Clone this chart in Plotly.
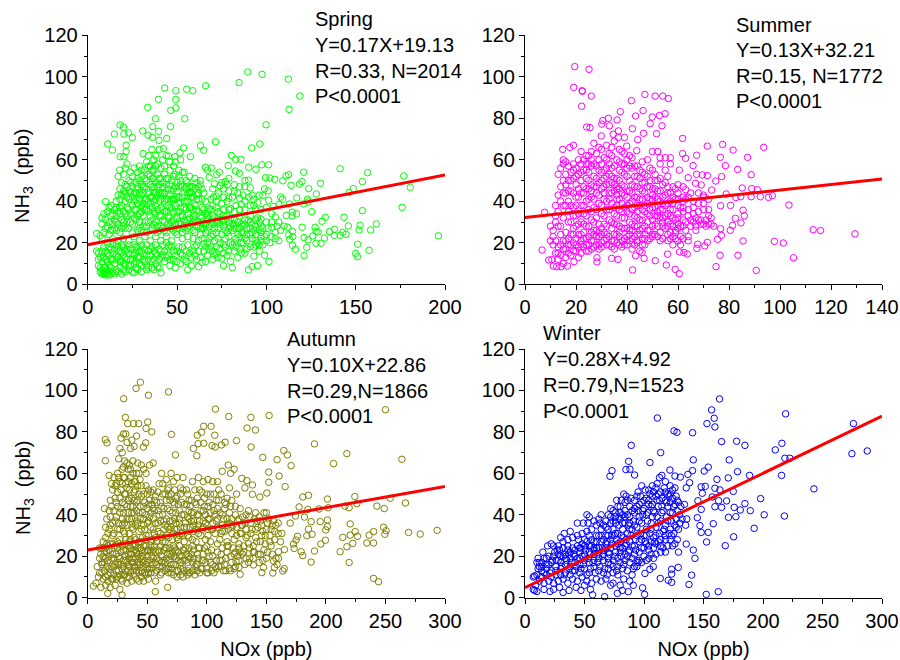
import plotly.graph_objects as go

spring_points = [
(43.1,94.6),(39.6,89.1),(33.6,85.3),(38,79.8),(18.1,76.8),(20,75.8),(49.3,93.3),(49.3,89.1),(49.3,85),(46.5,83.8),(55.4,94),(58.8,93.3),(66,95.7),(84.7,97.2),(89.6,102.3),(97.6,101.2),(112.3,98.9),(118.7,90.7),(112.7,84.3),(99.8,76.9),(54.3,79.8),(46.3,76),(36.4,76),(30.8,73.9),(39.7,73.7),(33.8,71.9),(36.2,70.8),(44.2,70.3),(39.9,69.4),(14.9,72.4),(20.3,72.4),(22.8,73),(25,70.7),(11.2,67.6),(21.5,67.1),(13.8,64.7),(21.5,64),(18.1,61.5),(20.2,61.5),(71.5,68.7),(63.1,66.8),(64.9,64.6),(53.6,65.7),(42.4,65.4),(91.8,65.7),(96.3,67.6),(57.5,61.5),(51.7,63.4),(48.9,61.5),(45.2,61.8),
(80.4,62.1),(82.8,60.2),(85.7,60.2),(78.7,57.2),(65.9,56.4),(69.2,56),(67,55),(73.7,54),(72.2,52.8),(82.7,54.6),(84.9,53.5),(90.1,56.4),(94.2,55.4),(97.4,57.6),(101.3,57.6),(99.5,51.4),(102,51.2),(104.7,50.6),(109.2,49.9),(111,52.2),(112.5,52.8),(120.9,54),(113.8,47.7),(118.5,48.3),(120,49.5),(123.7,46.1),(141.3,55.7),(156.7,53.8),(153.8,49.5),(148.7,46.1),(146.3,44.2),(176.9,52.2),(180.6,46.7),(176,37.1),(196.3,23.4),(161.6,29.1),(158.4,26.2),(157.5,16.4),(153.8,35.5),(152.5,28.4),(151.1,19.3),(150,14.9),(151,13.3),(151.9,26.2),(145.9,28.1),(143.5,32.3),(144.6,24.1),(142.7,25),(141.3,23.6),(138.1,26.5),(138.1,23.6),(135.3,25.4),(133,32.3),(131.2,30.4),(132.5,22.3),(130.6,19.8),(127.8,19.8),(127.3,27.5),(127.8,25.5),(129,25.2),(126,23.3),(123.4,21.4),(122.6,17.8),(121.1,13.8),(121.1,22.5),(120,27.5),(125.4,35),(130.3,48.7),(128,43.5),(123,41),(120.9,38.7),(123.4,39.7),(117,41.6),(116.9,34),(114.5,34.8),(114.5,33),(111.2,33.2),(112.9,38.7),(114.6,25.5),(111.9,27.5),(112.5,23.9),(114.8,23),(113.1,21.7),(114.6,18.8),(116.3,16.9),
(98,42.8),(101,45),(101.3,40.5),(108,42),(109,41),(104,37.5),(107,38.5),(105,32.5),(92,43),(91,46.5),(88,47),(90,50.2),(85,41.5),(82,44.7),(79,41.5),(76,42),(72,42.5),(70.5,42),(77,49.5),(79,51),(75,49),(71,48.5),(68,51.5),(74,47.5),(78,48),(86,38.5),(93,38),(95,39.5),(83,38),(88,36),(80,36.5),(76,36),(72,37),(68,36.5),(64,37),(95,32),(97,31.5),(90,31),(85,33),(82,31),(78,33),(74,34),(70,33),(66,34),(62,35),(60,33),
(101,27),(103,27.5),(106,28),(108,26),(105,25),(100,24),(102,20),(105,22),(97,21),(94,28),(92,25),(89,27),(86,29),(83,27),(80,28),(77,26),(74,29),(71,27),(68,28),(65,29),(62,28),(59,30),(56,31),(96,26.5),(91,30),(87,25),(84,24),(81,26),(78,25),(75,24),(72,25),(69,23),(66,25),(63,24),(60,25),
(95,20),(92,22),(89,21),(86,20),(83,22),(80,20),(77,22),(74,20),(71,21),(68,22),(65,19.5),(62,21),(59,22),(56,23),(53,22),(50,24),(47,21),(44,23),(41,21),(38,23),(35,21),(32,23),(29,21),(26,23),(23,21),(20,22),(17,21),(14,22),(11,20),(8,22),(5,24.5),(7,23.5),
(99,14),(96,16),(93,13.5),(95,9),(92,8.5),(90,7),(101.5,11),(89,17),(86,15),(84,13),(82,16),(80,11),(81,8),(78,14),(76,9),(75,12.5),(72,15),(70,12),(68,17),(66,11),(64,10.5),(62,8.5),(60,14),(58,9),(56,7),(57,15),(55,11),(53,14),(52,10),(50,16),(48,12),(49,8),(46,9),(47,18),(45,14),(44,20),(43,11),(41,5.5),(41,13),(40,8),(38,15),(37,7),(36,11),(35,17),(34,8),(33,14),(31,12),(30,6),(30,9),(28,7),(28,13),(29,16),(26,10),(27,18),(25,6),(25,15),(24,12),(23,9),(22,17),(21,13),(20,10),(19,15),(18,11),(17,18),(16,14),(15,10),(14,12),(13,17),(12,14),(11,11),(10,16),(9,13),(8,11),(6,15),(5,16),(6,12),
(6,9),(7,6),(7,8),(8,5),(8,7),(9,5),(9,8),(10,4.5),(10,6),(10,8),(11,5),(11,7),(12,4.5),(12,6),(12,9),(13,5),(13,8),(14,6),(15,5),(16,7),(17,6),(18,8),(19,5),(20,7),(21,6),(23,7),(26,5.5),(27,8),(33,7),(36,8),(39,8.5),
(10,39.8),(9,34),(8,32),(8,29),(10,31),(11,35),(12,37),(11,28),(13,33),(14,29),(15,31),(16,40),(15,36),(17,43),(18,41),(17,35),(16,26),(13,26),(19,31),(20,28),(19,38),(21,34),(21,44),(20,45),(22,37),(22,30),(23,27),(23,41),(24,34),(25,38),(25,29),(26,44),(26,32),(27,36),(27,41),(28,26),(28,47),(29,30),(29,34),(30,38),(30,43),(31,28),(31,33),(32,41),(32,47),(33,25),(33,36),(34,30),(34,44),(35,39),(35,33),(36,27),(36,42),(37,35),(37,47),(38,30),(38,38),(39,25),(39,43),(40,33),(40,48),(41,28),(41,37),(42,44),(42,31),(43,26),(43,40),(44,35),(44,48),(45,29),(45,38),(46,43),(46,32),(47,27),(47,37),(48,46),(48,31),(49,41),(49,25),(50,35),(50,45),(51,29),(51,39),(52,48),(52,33),(53,27),(53,42),(54,37),(54,31),(55,46),(55,26),(56,40),(56,34),(57,28),(57,44),(58,37),(59,32),(59,42),(60,38),(60,46),(61,28),(62,41),(63,33),(63,48),(65,27),(65,36),
(17,52),(18,55),(19,49),(20,53),(21,56),(21,48),(22,58),(23,50),(24,54),(25,47),(25,52),(26,56),(27,49),(28,54),(29,57),(29,50),(30,52),(31,47),(31,63),(32,55),(33,59),(33,50),(34,62),(34,53),(35,48),(35,57),(36,65),(36,51),(37,60),(37,55),(38,49),(38,62),(39,53),(39,58),(40,51),(40,65),(41,56),(42,60),(42,49),(43,53),(43,57),(44,62),(45,51),(46,55),(46,59),(47,50),(48,57),(49,53),(49,59),(50,49),(51,55),(52,60),(52,50),(54,54),(55,47),(56,49),(57,52),(58,47),(60,51),(61,49),(62,47),(63,50),
(9,25),(10,27),(12,24),(14,26),(14,34),(15,27),(16,33),(17,29),(18,25),(18,37),(19,43),(20,35),(20,30),(21,27),(22,33),(22,42),(23,36),(24,30),(24,44),(25,25),(26,36),(27,31),(28,33),(28,39),(29,44),(29,27),(30,35),(30,26),(31,39),(32,30),(32,36),(33,41),(33,28),(34,35),(35,42),(35,26),(36,37),(36,31),(37,29),(37,40),(38,34),(38,44),(39,28),(39,36),(40,40),(40,26),(41,33),(41,44),(42,27),(42,36),(43,30),(43,35),(44,41),(44,25),(45,33),(46,28),(46,37),(47,41),(47,30),(48,35),(48,26),(49,38),(49,29),(50,32),(50,27),(51,42),(51,35),(52,29),(52,37),(53,33),(53,25),(54,40),(54,28),(55,36),(55,30),(56,27),(57,37),(57,32),(58,29),(58,42),(59,26),(59,36),(60,31),(61,36),(61,43),(62,30),(63,27),(64,32),(64,41),(66,29),(67,33),(67,31),(69,30),(69,36),(70,29),(71,32),(72,30),(73,27),(75,31),(76,28),(77,31),(79,27),(80,32),(81,29),(82,27),(84,30),(86,25),(87,28),(88,31),(89,24),(91,27),(92,29),(93,26),(94,24),(96,30),(97,25),(98,27),(99,23),
(7,13),(8,16),(9,18),(10,12),(11,15),(12,18),(13,12),(14,15),(14,19),(15,17),(16,12),(16,19),(17,13),(18,16),(19,11),(19,19),(20,14),(20,18),(21,10),(21,16),(22,12),(23,15),(23,19),(24,9),(24,17),(25,12),(26,14),(26,19),(27,11),(27,15),(28,18),(29,10),(29,13),(30,16),(30,19),(31,15),(32,11),(32,17),(33,9),(33,19),(34,12),(34,16),(35,14),(36,18),(37,12),(37,16),(38,10),(38,19),(39,14),(40,12),(40,17),(41,16),(42,14),(42,19),(43,16),(44,13),(45,18),(46,12),(46,19),(48,16),(49,14),(50,11),(51,18),(52,15),(53,18),(54,12),(55,16),(56,19),(58,13),(59,16),(60,18),(61,12),(62,16),(63,13),(65,16),(66,18),(67,14),(69,18),(70,16),(71,14),(72,18),(73,13),(74,17),(76,15),(77,18),(79,16),(81,19),(83,18),(85,17),(87,20),(88,15),(91,18),(93,18),(94,21),(96,19),(98,19),
(12,30),(13,38),(16,37),(16,30),(18,46),(18,34),(19,27),(21,40),(22,47),(23,45),(24,49),(25,42),(26,40),(27,46),(27,44),(28,51),(29,41),(30,48),(30,55),(31,44),(31,37),(32,51),(33,46),(34,40),(34,57),(35,52),(36,47),(36,55),(37,44),(37,51),(38,41),(38,57),(39,47),(40,44),(41,41),(41,51),(42,47),(43,44),(44,51),(45,41),(45,46),(46,48),(47,45),(48,41),(48,52),(49,47),(50,42),(51,47),(51,52),(53,47),(53,54),(54,44),(55,50),(55,40),(56,44),(57,47),(58,44),(59,47),(61,41),(62,44),(64,46),(65,44),
(61,19),(64,22),(67,20),(70,24),(73,22),(76,19),(79,23),(82,20),(85,23),(88,22),(91,24),(94,19),(97,23),(100,21),(103,23),(107,21),(64,27),(67,26),(70,31),(73,31),(76,30),(79,30),(82,29),(85,27),(88,29),(91,33),(94,31),(97,28),(100,30),(103,30),(107,30),(110,28),(64,30),(67,35),(70,38),(73,35),(76,33),(79,36),(82,35),(85,36),(88,40),(91,38),(94,36),(97,36),(100,37),(103,34),(66,40),(69,41),(72,40),(75,39),(78,40),(81,42),(84,44),(87,43),(90,42),(93,41),(96,43),(99,46),(70,46),(73,44),(76,46),(79,45),(82,48),(85,47),(88,50),
]
spring_line_x = [0, 200]
spring_line_y = [19.1, 52.7]

summer_points = [
(19.5,104.9),(25.1,103.6),(19.1,94.9),(22.4,93.3),(22.5,93),(26,90.7),(22.2,85.8),(41.7,88.5),(47,91.5),(51,90.7),(54,90.7),(56.2,89.5),(46.3,83.7),(37.4,83.2),(43.4,81.1),(49.9,80.6),(52.7,81.3),(54.9,82.2),(32.7,80),(30.5,78.9),(30.1,77.2),(33.1,76.4),(24.2,75.8),(25.5,75.5),(36.1,79.2),(42.1,75),(49.1,77.4),(53.7,76.4),(51.6,72.6),(46.5,72.8),(36.6,73.9),(34.6,72.3),(29.9,71.5),(39,70.8),(36.6,70.8),(44.2,69.7),(61.8,70.3),(71.5,66.6),(77.5,67.4),(81.6,64.7),(93.6,66),(87.3,61.2),(76.6,61.2),(67.3,62.2),(61.8,63),(63,60.7),(39.9,66.6),(43.8,64.4),(14.8,65),(17.6,66),(19,67),(78.6,57.2),(83.4,55.4),(65.9,57.2),(60.5,55),(88.7,52.8),(77.1,51.9),(74.8,49.8),(71.5,52.4),(69.5,52.7),(67.3,53),(64,51.4),(66.9,48.7),(69.1,47.9),(73.2,45.4),(63,45.6),(85.2,46.4),(88.9,46.1),(91.1,45.6),(78.9,43.5),(84.6,42.2),(82.7,41.8),(88.7,42.2),(92.3,42.2),(95.5,41.9),(97,42.7),(103.5,38.2),(80.6,38),(76.7,37.9),(85.5,35.7),(86,33),(82.5,31.8),(81.4,28.4),(84.7,29.6),(80.5,26),(76.7,26.8),(77,23.6),(75.5,21.7),(85.5,20.9),(97.8,20.7),(101.3,19.9),(105.3,12.8),(113,26.3),(115.9,25.9),(129.4,24.3),(90.7,6.7),(83.5,14),(76.5,14),(74.9,8.5),(71.5,20.2),(70.5,18.5),(67.4,17.3),(67.7,19.3),(63.6,14.6),(62.3,15.3),(60.6,15.6),(55.9,14.5),(55.4,9.3),(58.9,7.2),(60.5,5.1),(42.2,6.9),(51.1,11.4),(46.7,12.5),(45.9,15.3),(43.4,13.7),(36.5,12),(34,12.5),(28.2,12.8),(28.2,10.8),(6.7,16.5),(7.7,34.7),(19.2,10.9),(16.6,8.8),(14.1,8.5),(12.4,8.5),(11.1,8.8),(9.3,11.7),(10.5,11.9),
(68,44),(70,43),(72,41),(66,40),(68,39),(70,42),(62,40),(64,42),(60,44),(58,47),(60,48),(62,47),(56,52),(55,55),(57,58),(55,61),(57,61),(53,61),(50,64),(52,64),(48,60),(46,59),(49,56),(51,53),(53,58),(52,50),(54,48),(56,44),(58,42),(60,38),(62,35),(64,33),(66,34),(68,35),(70,36),(72,33),(73,29),(71,31),(69,29),(67,28),(65,31),(63,30),(62,28),(60,27),(58,28),(56,30),(54,32),(52,33),(50,31),(48,34),(46,36),(44,38),(42,40),(40,42),(38,44),(36,47),(34,49),(32,52),(30,54),(28,57),(26,60),(24,62),(22,64),
(13,53),(14,56),(15,60),(15,58),(16,53),(17,57),(17,50),(18,54),(19,58),(19,51),(20,56),(20,48),(21,53),(22,58),(22,50),(23,55),(23,47),(24,58),(24,51),(25,62),(25,54),(26,48),(26,57),(27,68),(27,52),(28,63),(28,47),(29,55),(29,60),(30,50),(30,65),(31,55),(31,47),(32,60),(32,67),(33,53),(33,48),(34,62),(34,56),(35,51),(35,69),(36,60),(36,46),(37,55),(37,50),(38,64),(38,58),(39,47),(39,53),(40,60),(40,56),(41,50),(41,45),(42,56),(42,61),(43,52),(43,47),(44,57),(44,42),(45,51),(45,46),(46,54),(47,49),(47,44),(48,52),(49,47),(50,43),(51,46),(52,41),(53,45),(54,39),(55,43),(57,40),(59,41),
(10,28),(11,26),(11,23),(12,30),(12,38),(13,43),(13,35),(14,47),(14,28),(15,38),(15,32),(16,44),(16,25),(17,40),(17,35),(18,30),(18,45),(19,27),(19,37),(20,42),(20,33),(21,46),(21,29),(22,38),(22,24),(23,44),(23,34),(24,28),(24,40),(25,36),(25,46),(26,31),(26,42),(27,26),(27,37),(28,32),(28,44),(29,25),(29,39),(30,34),(30,46),(31,29),(31,41),(32,36),(32,24),(33,44),(33,31),(34,27),(34,39),(35,34),(35,45),(36,29),(36,41),(37,25),(37,36),(38,32),(38,39),(39,27),(39,43),(40,35),(40,23),(41,39),(41,30),(42,26),(42,36),(43,42),(43,33),(44,28),(44,24),(45,38),(45,31),(46,41),(46,27),(47,35),(47,24),(48,39),(48,30),(49,36),(49,26),(50,41),(50,23),(51,37),(51,29),(52,35),(53,25),(53,40),(54,30),(54,36),(55,27),(56,39),(56,24),(57,33),(57,29),(58,36),(58,23),(59,31),(59,26),(60,34),(60,29),(61,23),(62,37),(63,41),(64,23),(66,30),(67,26),(68,31),(70,29),(72,29),(73,32),
(11,19),(10,21),(12,15),(12,21),(13,12),(13,18),(14,24),(14,14),(15,21),(15,10),(16,17),(16,13),(17,22),(17,19),(18,14),(18,24),(19,20),(20,16),(20,22),(21,18),(21,13),(22,21),(22,15),(23,18),(23,25),(24,16),(24,22),(25,19),(26,25),(26,17),(27,21),(28,19),(29,23),(30,20),(31,25),(32,22),(33,19),(34,21),(35,17),(35,24),(36,20),(37,23),(38,18),(39,22),(40,19),(41,21),(42,17),(43,23),(44,20),(45,16),(46,22),(47,19),(48,21),(50,24),(52,23),(54,22),(58,19),(60,21),(62,22),(64,21),
(12,33),(13,28),(14,40),(15,44),(15,50),(16,48),(16,38),(16,59),(17,45),(17,30),(18,38),(18,50),(19,33),(19,44),(19,55),(20,38),(20,28),(20,52),(21,34),(21,42),(21,60),(22,30),(22,44),(22,54),(23,38),(23,29),(23,60),(24,33),(24,46),(24,55),(25,28),(25,41),(25,50),(25,58),(26,35),(26,45),(26,64),(27,30),(27,41),(27,47),(27,58),(28,36),(28,26),(28,51),(29,29),(29,43),(29,49),(29,66),(30,38),(30,27),(30,58),(31,33),(31,44),(31,51),(31,61),(32,40),(32,28),(32,48),(32,56),(33,36),(33,41),(33,58),(33,63),(34,30),(34,44),(34,52),(34,66),(35,37),(35,29),(35,48),(35,57),(36,33),(36,38),(36,43),(36,51),(37,28),(37,41),(37,46),(37,59),(37,65),(38,35),(38,27),(38,48),(38,54),(39,32),(39,37),(39,58),(39,63),(40,27),(40,38),(40,45),(40,52),(41,34),(41,26),(41,57),(41,62),(42,29),(42,44),(42,48),(43,37),(43,28),(43,57),(44,32),(44,35),(44,47),(44,52),(45,26),(45,41),(45,55),(46,31),(46,45),(46,49),(47,28),(47,38),(47,53),(48,42),(48,26),(48,47),(49,33),(49,41),(49,50),(50,28),(50,37),(50,46),(50,55),(51,33),(51,42),(51,50),(52,28),(52,38),(52,45),(53,32),(53,36),(53,51),(54,28),(54,42),(55,33),(55,38),(55,49),(56,28),(56,34),(56,47),(57,25),(57,36),(57,44),(58,32),(58,39),(59,25),(59,46),(60,32),(60,41),(61,28),(61,37),(62,31),(62,42),(63,26),(64,36),(65,28),(65,44),(66,37),(67,32),(69,31),(70,39),(71,28),(72,36),(74,28),
(13,15),(14,19),(15,17),(16,21),(17,15),(18,19),(19,16),(19,24),(20,19),(21,24),(22,19),(23,22),(24,19),(25,23),(25,16),(26,21),(27,18),(27,24),(28,23),(29,19),(29,17),(30,24),(30,18),(31,21),(32,19),(33,23),(34,18),(35,21),(36,24),(37,19),(38,21),(39,19),(40,21),(41,24),(42,22),(43,19),(44,21),(45,24),(46,19),(47,22),(49,22),(51,24),(53,21),(56,21),(57,22),(59,22),(61,19),
]
summer_line_x = [0, 140]
summer_line_y = [32.2, 50.7]

autumn_points = [
(44.2,104),(40.6,101),(30.2,96),(51,97.7),(67.8,99.3),(107.2,91),(250,90.7),(118.4,87.4),(137,87),(152.3,87.9),(31.6,87),(50.4,84.8),(38.6,84),(42.8,84),(33.6,84),(97.4,82.7),(103.6,82.7),(133.8,81.9),(140.8,80.9),(106.7,78.4),(70.3,78.8),(49,81.7),(53.8,80),(95.5,79.8),(92,78.4),(124.9,75.8),(115.4,75),(112.3,73.7),(104.4,73.4),(107,72.7),(97.4,74.5),(92.7,74.3),(137.2,72.7),(164.6,71),(167.7,68.9),(190.4,74.2),(217.6,69.5),(263.8,66.8),(206.4,64.7),(170.8,63.7),(159,66.6),(147,67.7),(73.6,68.9),(14.8,66.1),(14.8,76.3),(16.2,74.7),(48.7,74.7),(46.8,72.7),(88.8,72),(91.6,68.5),(152,60.6),(152,55.7),(160.7,58.7),(165.8,53.6),(150.4,50.5),(144.5,48.6),(138.3,54.4),(133.6,56.5),(129.4,57.6),(132,53),(138.3,49.9),(180.6,48.6),(185.4,49.4),(201.3,47.6),(224.3,48.8),(254,48),(266.8,45.7),(226,45.4),(219.5,43.4),(242.8,44.2),(249,43),(216,44.2),(202,43.4),(194.3,42.8),(177.5,43.8),(184.8,42.6),(182,38.9),(174.4,39.4),(170,36),(201.3,37.5),(195.2,36.7),(187.6,36.7),(185.4,33.1),(201.3,34.3),(199.9,32.7),(220.4,35.6),(248.4,34),(250.6,32.3),(249.5,30.6),(240,31.9),(236.3,30.2),(224.6,31.9),(226.5,29.6),(220.4,30.2),(214.2,29.1),(222.6,26.2),(217.6,24.6),(212,22.2),(234.4,26.4),(240,26.4),(269.4,31.5),(279.2,30.7),(293.4,32.5),(219.5,17),(240,9.3),(244.2,7.7),(199.6,27.7),(195.7,25.9),(190.4,22.5),(187.6,17.2),(180.6,20.3),(179.2,22.2),(188.4,30.6),(184,29.9),(176.1,29.6),(175,27.8),(172.8,25.9),(173.3,23.8),(165,14),(163.8,12.9),(165.2,23.2),(160.2,22.2),(160.2,19),(156,17.7),(156.8,14.6),(155.4,11.9),(147.6,14.6),(146.2,12.1),(139.2,15.8),(128,11.3),(127,14.6),(124.6,17.4),(56.8,2.9),(67.2,5),(28.8,1.3),(16.8,2.1),(4.8,5.6),
(28,77),(30,79),(27,72),(29,70),(33,75),(36,72),(39,73),(37,76),(41,78),(32,79),(26,67),(31,66),(35,64),(38,66),(42,65),(45,64),(52,64),(55,65),(47,62),(49,60),(43,60),(34,62),(29,62),(25,60),(18,59),(20,55),(22,58),(24,55),(27,56),(30,58),(32,55),(36,58),(40,56),(44,57),(50,50),(53,51),(56,47),(62,60),(60,55),(66,57),(70,60),(75,58),(80,58),(68,53),(72,56),(78,53),(84,50),(88,56),(90,52),(93,58),(97,56),(101,57),(105,56),(109,56),(103,50),(98,48),(108,47),(112,50),(117,48),(113,61),(118,64),(120,60),(123,62),(119,53),(125,50),
(14,43),(16,38),(18,42),(15,34),(17,31),(19,47),(21,52),(23,48),(25,44),(27,41),(29,46),(31,50),(33,44),(35,48),(37,41),(39,51),(41,46),(43,41),(45,49),(47,44),(49,40),(51,45),(53,41),(55,43),(57,49),(59,42),(61,46),(63,40),(65,50),(67,43),(69,47),(71,41),(73,45),(75,49),(77,42),(79,46),(81,40),(83,45),(85,42),(87,47),(89,41),(91,45),(93,40),(95,46),(97,42),(99,40),(101,44),(103,41),(105,45),(107,40),(109,43),(111,41),(113,40),(115,43),(117,38),(119,41),(121,38),(124,40),(127,38),(130,39),(133,40),(136,39),(140,38),(144,39),(148,41),(152,38),(156,37),(160,36),
(13,27),(15,29),(17,25),(19,35),(21,30),(23,37),(25,33),(27,28),(29,35),(31,31),(33,38),(35,27),(37,34),(39,29),(41,37),(43,32),(45,27),(47,35),(49,30),(51,37),(53,27),(55,33),(57,29),(59,36),(61,31),(63,27),(65,35),(67,30),(69,37),(71,28),(73,33),(75,29),(77,36),(79,31),(81,27),(83,34),(85,29),(87,37),(89,32),(91,27),(93,35),(95,30),(97,37),(99,28),(101,33),(103,27),(105,36),(107,31),(109,34),(111,28),(113,35),(115,32),(117,27),(119,36),(121,31),(123,28),(125,34),(127,26),(129,31),(131,25),(133,33),(135,26),(137,36),(139,25),(141,29),(143,34),(145,27),(147,32),(149,26),(151,36),(153,30),(155,35),(157,32),(160,31),(163,31),
(8,15),(10,19),(12,12),(14,17),(16,22),(18,14),(20,19),(22,24),(24,13),(26,20),(28,16),(30,23),(32,18),(34,13),(36,21),(38,25),(40,15),(42,20),(44,24),(46,12),(48,18),(50,23),(52,14),(54,20),(56,25),(58,16),(60,22),(62,12),(64,18),(66,24),(68,14),(70,20),(72,25),(74,16),(76,22),(78,11),(80,18),(82,24),(84,13),(86,19),(88,25),(90,15),(92,21),(94,12),(96,18),(98,24),(100,14),(102,20),(104,23),(106,12),(108,18),(110,15),(112,21),(114,13),(116,19),(118,25),(120,20),(122,24),(124,22),(127,24),(130,21),(133,19),(136,24),(139,22),(142,27),(145,21),(148,23),(150,19),(154,25),(158,19),
(7,7),(9,10),(11,5),(13,9),(15,6),(17,11),(19,5),(21,9),(23,6),(25,10),(27,4),(29,8),(31,11),(33,7),(35,10),(37,8),(39,11),(41,9),(43,8),(45,13),(47,8),(49,11),(51,9),(53,12),(57,8),(61,11),(65,13),(70,12),(75,10),(80,10),(85,12),(90,11),(10,12),(12,17),(15,19),(18,20),(12,24),(22,15),(26,16),(30,15),(34,16),(38,17),(42,16),(46,17),(50,17),(54,16),(58,19),(62,17),(66,19),(70,16),(74,19),(78,17),
(16,26),(18,33),(19,39),(20,44),(21,36),(22,42),(22,31),(23,54),(24,39),(24,46),(25,51),(25,27),(26,36),(26,58),(27,48),(27,33),(28,43),(28,52),(29,38),(29,55),(30,32),(30,41),(30,63),(31,36),(31,45),(31,58),(32,28),(32,50),(33,35),(33,53),(33,65),(34,41),(34,47),(34,56),(35,31),(35,38),(35,52),(36,44),(36,28),(36,62),(37,38),(37,48),(37,55),(38,33),(38,44),(38,60),(39,41),(39,47),(39,56),(40,35),(40,28),(40,52),(41,42),(41,60),(42,36),(42,47),(42,54),(43,27),(43,50),(44,38),(44,44),(45,33),(45,54),(46,41),(46,29),(47,50),(47,38),(48,33),(48,46),(49,28),(49,54),(50,36),(50,43),(51,30),(51,52),(52,39),(52,47),(53,34),(54,45),(54,28),(55,38),(55,52),(56,31),(56,42),(57,36),(58,46),(58,27),(59,51),(59,32),(60,40),(61,37),(62,44),(62,29),(63,50),(64,33),(64,43),(65,27),(66,38),(66,47),(67,34),(67,52),(68,29),(69,42),(70,34),(70,50),(71,37),(72,46),(72,31),(73,52),(74,36),(74,41),(75,33),(76,45),(76,28),(77,38),(78,50),(78,34),(79,40),(80,30),(81,45),(82,36),(83,52),(84,39),(84,30),(85,47),(86,34),(87,41),(88,28),(89,37),(90,46),(91,33),(92,40),(94,37),(94,52),(95,42),(96,33),(98,44),(99,36),(100,50),(101,30),(102,38),(104,33),(106,42),(108,37),(110,47),(112,31),(114,38),(116,45),(118,33),(120,44),(122,35),(126,37),(128,31),(132,36),(134,30),(138,33),(142,37),(146,35),(150,33),
(10,24),(11,21),(12,16),(13,20),(14,22),(14,13),(15,24),(15,10),(16,15),(17,18),(17,8),(18,23),(19,12),(19,26),(20,9),(20,15),(21,21),(21,26),(22,11),(22,19),(23,16),(23,25),(24,9),(24,21),(25,17),(25,24),(26,13),(26,26),(27,19),(27,11),(28,22),(28,9),(29,14),(29,25),(30,18),(30,11),(31,20),(31,26),(32,13),(32,23),(33,10),(33,17),(34,21),(34,25),(35,15),(35,19),(36,12),(36,24),(37,17),(37,21),(38,13),(38,19),(39,23),(39,15),(40,19),(40,25),(41,13),(41,22),(42,17),(42,24),(43,12),(43,21),(44,16),(44,19),(45,23),(45,10),(46,20),(47,15),(47,25),(48,12),(48,22),(49,16),(49,25),(50,14),(50,20),(51,23),(51,12),(52,18),(53,22),(53,25),(54,14),(55,19),(55,23),(56,12),(57,17),(57,22),(58,13),(59,23),(60,15),(60,18),(61,25),(62,20),(63,15),(64,23),(65,17),(66,14),(67,21),(68,18),(69,24),(70,14),(71,22),(72,16),(73,20),(74,23),(75,13),(76,18),(77,25),(78,14),(79,20),(80,23),(81,13),(82,18),(83,21),(84,17),(85,24),(86,12),(87,21),(88,17),(89,23),(91,16),(92,13),(93,19),(94,24),(95,14),(97,21),(99,17),(100,25),(101,12),(103,17),(105,20),(107,15),(109,22),(111,18),(113,24),(115,16),(117,22),(121,17),(123,14),(126,20),
(63,55),(68,49),(74,48),(80,52),(86,44),(92,48),(96,51),(102,46),(106,50),(110,52),(115,46),(121,47),(124,44),(128,43),(130,35),(135,42),(141,41),(146,30),(150,41),(154,33),(158,35),(162,27),(64,37),(69,33),(73,38),(77,30),(81,34),(85,38),(89,35),(93,31),(97,34),(101,38),(105,33),(109,38),(113,32),(117,35),(121,34),(125,30),(129,35),(133,29),(137,31),(141,33),(145,37),(149,30),(153,27),(157,28),(65,24),(69,21),(73,24),(77,20),(81,23),(85,20),(89,19),(93,24),(97,18),(101,22),(105,16),(109,26),(113,18),(117,25),(119,14),(123,21),(127,18),(131,22),(135,17),(139,19),(143,21),(147,18),(151,22),(155,21),(159,16),(68,12),(72,11),(76,13),(80,14),(84,11),(88,13),(92,16),(96,14),(100,12),(104,13),(108,14),(112,15),(116,13),(120,13),(124,15),(128,22),(132,16),(136,19),(140,22),(144,17),
]
autumn_line_x = [0, 300]
autumn_line_y = [23, 53.7]

winter_points = [
(163.5,95.9),(156.8,90.6),(159,86.6),(152.9,84),(159.6,82.4),(111.2,86.7),(125.2,80.5),(127.7,79.8),(140.8,79.6),(219,88.7),(276,84),(287.6,70.8),(274.7,69.5),(222.6,67.3),(218.4,67.3),(210.3,71.3),(215.9,74.5),(184.8,73.5),(177.8,75.5),(165.2,75.3),(171.6,66.5),(141.4,66.5),(114,70),(89.3,73.5),(87.1,65.8),(105,65.2),(73.1,61.3),(71.4,58.6),(84.8,61.8),(88.2,62),(92.1,59.2),(121.8,61.6),(115,59),(130.5,58.2),(126,58.7),(136.9,59.5),(140.8,61.3),(150.6,61.1),(154,63),(161.3,57.1),(170.8,57.8),(178.6,60.8),(188.7,59),(215.6,59),(242.8,52.5),(175,51.3),(198,47.8),(184.8,45.4),(201,40),(218,39.4),(189.3,42),(180.9,42.3),(175.8,43.6),(177.2,39.1),(171,38.8),(192.6,33.5),(175.3,29.4),(168.3,25.1),(158.2,35.7),(154,31.5),(152.6,26.9),(148.1,31.5),(147,34.8),(144.8,38.6),(148.1,42.6),(145.3,46.8),(149,50.4),(151.5,53.7),(148,53.5),(138.3,55.5),(135.5,53),(159.6,52.8),(163.8,52),(157.4,48.6),(159.6,43.9),(162.7,46.8),(165.2,43.6),(169.4,46.7),(135.5,25.9),(141.4,23),(142.8,19),(140,10.9),(137.8,6.4),(152.3,1.6),(162.4,2.9),(128.8,14.6),(123.2,13.7),(123.2,11.4),(123.2,7.4),(120.4,8.4),(113.7,9.3),(98.8,4.8),(100.5,1.6),(66.9,0.5),(56.8,1.4),(86.8,2.9),(81.8,3.5),(77.6,2.1),(100.8,11.7),(107.8,15),(105,13.7),
(98,54),(104,52),(107,54),(110,53),(113,58),(118,56),(122,54),(126,53),(102,48),(107,49),(111,47),(115,48),(120,50),(124,48),(129,46),(134,45),(100,43),(104,45),(108,42),(112,44),(116,42),(120,44),(124,41),(128,42),(136,38),(135,35),(130,36),(129,33),(126,35),(122,33),(118,35),(114,37),(110,34),(106,36),(102,33),(98,36),(94,34),(96,39),(92,41),(88,44),(92,47),(95,51),(85,49),(83,50),(81,47),(77,47),(72,43),(76,41),(80,44),(84,42),(88,39),(84,36),(80,38),(76,36),(72,39),(68,37),(70,33),(74,33),(78,31),(82,33),(86,31),(90,33),(94,30),(98,28),(102,30),(106,27),(110,30),(114,28),(118,30),(122,28),(126,26),(128,28),(129,22),(124,25),(120,25),(116,24),(112,27),(108,24),(104,25),(100,24),(96,27),(92,25),(88,27),(84,25),(80,27),(76,25),(72,28),(68,30),(64,33),(60,35),(64,40),(58,37),(54,39),(52,40),(53,36),(49,36),(44,36),(38,32),(33,31),(30,29),(56,33),(52,32),(48,31),(44,30),(40,29),(36,28),(32,27),(28,25),(24,25),(19,25),(22,26),
(60,30),(56,28),(52,27),(48,26),(44,25),(40,24),(36,23),(32,24),(28,21),(24,20),(20,20),(16,19),(11,19),(64,27),(68,26),(72,24),(76,22),(80,22),(84,21),(88,23),(92,21),(96,22),(100,20),(104,19),(108,19),(70,22),(66,23),(62,24),(58,23),(54,22),(50,21),(46,22),(42,20),(38,19),(34,21),(30,20),(26,18),(22,17),(18,16),(14,17),(10,17),(12,15),
(80,17),(84,18),(88,17),(92,15),(96,18),(90,11),(94,15),(86,13),(82,14),(78,15),(74,18),(70,17),(66,18),(62,19),(58,18),(54,17),(50,18),(46,16),(42,17),(38,15),(34,16),(30,14),(26,15),(22,13),(18,14),(14,13),(11,14),(74,12),(70,14),(66,12),(62,13),(58,15),(54,12),(50,14),(46,12),(42,13),(38,11),(34,12),(30,11),(26,11),(22,10),(18,11),(14,10),(10,11),(8,10.5),(7,10),(78,11),(83,9),(88,8),(91,6),(80,6),(74,7),(72,6),(68,9),(64,8),(60,9),(56,7),(52,8),(48,10),(44,8),(40,9),(36,7),(32,9),(28,8),(24,7),(20,8),(16,7),(12,8),(9,6),(7,4),(8,3.5),(10,3),(16,4),(21,3),(24,4),(29,5),(32,2.5),(37,3.5),(43,5),(47,3.5),(50,6),(55,4),
(58,24),(47,24),(36,25),(27,23),(15,22),(30,17),(34,19),(38,22),(42,23),(46,19),(50,25),(54,25),(58,21),(62,21),(66,21),(70,19),(74,15),(78,19),(82,24),(86,20),(90,19),(94,18),(98,17),(102,18),(106,21),(110,21),(114,22),(118,22),(75,30),(79,35),(83,29),(87,35),(91,37),(95,42),(99,40),(103,41),(107,39),(111,39),(115,41),(119,39),(123,37),(127,38),(131,44),(127,49),(122,50),(118,51),(112,50),(108,51),(104,47),(100,47),(96,45),(92,43),(88,36),(84,39),(80,41),(76,39),(72,36),(68,34),(64,30),(60,27),(56,25),(65,24),(69,27),(73,30),(77,28),(81,30),(85,28),(89,30),(93,28),(97,31),(101,27),(105,31),(109,27),(113,31),(117,33),(121,31),(125,31),
(12,17),(14,15),(16,12),(18,19),(20,16),(21,12),(23,18),(25,22),(26,13),(28,18),(29,23),(31,15),(32,20),(33,11),(35,18),(37,14),(37,21),(39,17),(40,13),(41,21),(43,15),(44,19),(45,28),(46,24),(47,14),(48,20),(49,16),(50,28),(51,23),(52,11),(53,19),(54,30),(55,14),(55,21),(57,17),(58,27),(59,12),(60,24),(61,17),(62,30),(63,15),(63,36),(65,20),(66,28),(67,14),(68,24),(69,11),(70,30),(71,21),(72,16),(73,26),(74,37),(75,20),(76,31),(77,13),(78,26),(79,39),(80,24),(81,20),(82,36),(83,16),(84,46),(85,26),(86,40),(87,22),(88,33),(89,48),(90,25),(91,14),(92,35),(93,23),(94,44),(95,17),(96,37),(97,49),(98,24),(99,42),(100,30),(101,52),(102,26),(103,37),(104,23),(105,50),(106,33),(107,45),(108,29),(109,41),(110,26),(111,55),(112,36),(113,47),(114,25),(115,44),(116,32),(117,53),(118,28),(119,46),(120,37),(121,49),(122,41),(123,30),(124,52),(125,44),(127,34),(128,47),(130,40),(132,38),(62,38),(66,35),(70,40),(74,42),(78,44),(82,40),(86,47),(90,42),(94,49),(98,46),(102,40),(106,44),(110,49),(114,51),(118,47),(122,46),(126,45),
]
winter_line_x = [0, 300]
winter_line_y = [4.9, 87.6]

spring_text = ["Spring", "Y=0.17X+19.13", "R=0.33, N=2014", "P<0.0001"]
summer_text = ["Summer", "Y=0.13X+32.21", "R=0.15, N=1772", "P<0.0001"]
autumn_text = ["Autumn", "Y=0.10X+22.86", "R=0.29,N=1866", "P<0.0001"]
winter_text = ["Winter", "Y=0.28X+4.92", "R=0.79,N=1523", "P<0.0001"]
x_title = "NOx (ppb)"
y_title = "NH<sub>3</sub>  (ppb)"

W, H = 900, 660
FONT = "Liberation Sans"
FS = 20

def dx(a, b): return [a / W, b / W]
def dy(top, bottom): return [1 - bottom / H, 1 - top / H]

panels = [
    ("", spring_points, spring_line_x, spring_line_y, "#00ff00", 200, 50, 25, dx(87.7, 445), dy(35.3, 284.3), spring_text, 315, [19, 45, 71, 96], False, 176),
    ("2", summer_points, summer_line_x, summer_line_y, "#ff00ff", 140, 20, 10, dx(525, 882), dy(35.3, 284.3), summer_text, 736, [25, 50, 76, 101], False, None),
    ("3", autumn_points, autumn_line_x, autumn_line_y, "#808000", 300, 50, 25, dx(87.7, 445), dy(349, 597.7), autumn_text, 287, [339, 365, 391, 416], True, 488),
    ("4", winter_points, winter_line_x, winter_line_y, "#0000ff", 300, 50, 25, dx(525, 882), dy(349, 597.7), winter_text, 543, [333, 359, 385, 411], True, None),
]

fig = go.Figure()
annotations = []
layout = {}
for sfx, pts, lx, ly, col, xmax, xd, xm, xdom, ydom, txt, tx, tys, xtitle, ytitle_y in panels:
    fig.add_trace(go.Scatter(
        x=[p[0] for p in pts], y=[p[1] for p in pts], mode="markers",
        xaxis="x" + sfx, yaxis="y" + sfx, showlegend=False, cliponaxis=False,
        marker=dict(symbol="circle-open", size=6.5, color=col, line=dict(width=1, color=col)),
    ))
    fig.add_trace(go.Scatter(
        x=lx, y=ly, mode="lines", xaxis="x" + sfx, yaxis="y" + sfx, showlegend=False,
        cliponaxis=False, line=dict(color="#ff0000", width=3),
    ))
    xa = dict(
        domain=xdom, range=[0, xmax], anchor="y" + sfx, dtick=xd, tick0=0, ticks="outside", ticklen=5,
        tickwidth=1, tickcolor="black", showgrid=False, zeroline=False, showline=True, linecolor="black",
        linewidth=1, automargin=False, minor=dict(dtick=xm, tick0=0, ticks="outside", ticklen=3, tickwidth=1, tickcolor="black", showgrid=False),
        tickfont=dict(family=FONT, size=FS, color="black"),
    )
    if xtitle:
        xa["title"] = dict(text=x_title, font=dict(family=FONT, size=FS, color="black"), standoff=14)
    ya = dict(
        domain=ydom, range=[0, 120], anchor="x" + sfx, dtick=20, tick0=0, ticks="outside", ticklen=5,
        tickwidth=1, tickcolor="black", showgrid=False, zeroline=False, showline=True, linecolor="black",
        linewidth=1, automargin=False, minor=dict(dtick=10, tick0=0, ticks="outside", ticklen=3, tickwidth=1, tickcolor="black", showgrid=False),
        tickfont=dict(family=FONT, size=FS, color="black"),
    )
    layout["xaxis" + sfx] = xa
    layout["yaxis" + sfx] = ya
    if ytitle_y is not None:
        annotations.append(dict(
            text=y_title, xref="paper", yref="paper", x=24 / W, y=1 - ytitle_y / H, xanchor="center", yanchor="middle",
            textangle=-90, showarrow=False, font=dict(family=FONT, size=FS, color="black"),
        ))
    for t, ty in zip(txt, tys):
        annotations.append(dict(
            text=t, xref="paper", yref="paper", x=tx / W, y=1 - ty / H, xanchor="left", yanchor="middle",
            showarrow=False, xshift=-2, font=dict(family=FONT, size=FS, color="black"),
        ))

fig.update_layout(
    width=W, height=H, margin=dict(l=0, r=0, t=0, b=0), paper_bgcolor="white", plot_bgcolor="white",
    annotations=annotations, **layout,
)
fig.write_html("out.html", post_script="document.body.style.margin='0';", config={"displayModeBar": False})
